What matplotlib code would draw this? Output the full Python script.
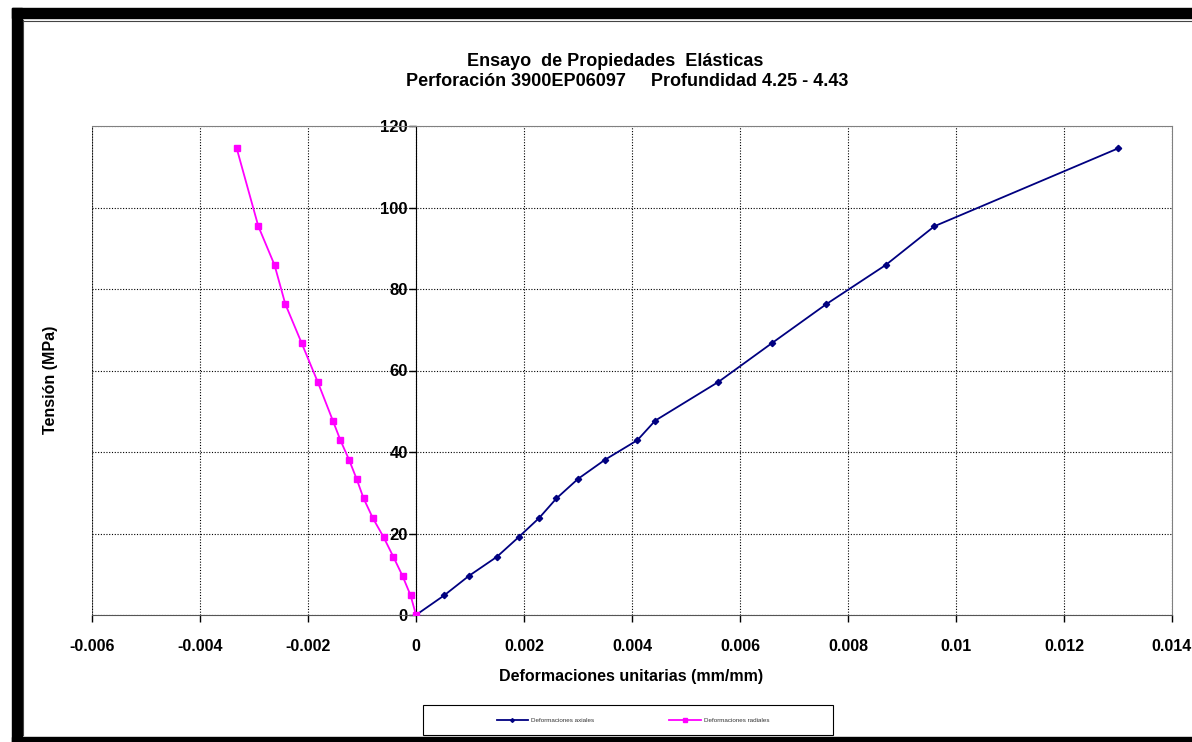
import matplotlib
matplotlib.use('Agg')
import matplotlib.pyplot as plt
from matplotlib.patches import Rectangle
from matplotlib.lines import Line2D

plt.rcParams['font.family'] = ['Liberation Sans', 'DejaVu Sans']

# tension steps (MPa)
tension = [0, 4.8, 9.6, 14.3, 19.1, 23.8, 28.6, 33.4, 38.1, 42.9, 47.7, 57.2, 66.8, 76.3, 85.9, 95.4, 114.5]
# axial strain (mm/mm)
axial = [0, 0.00052, 0.00098, 0.0015, 0.0019, 0.00228, 0.0026, 0.003, 0.0035, 0.0041, 0.00443,
         0.0056, 0.0066, 0.0076, 0.0087, 0.0096, 0.013]
# radial strain (mm/mm)
radial = [0, -0.0001, -0.00025, -0.00042, -0.0006, -0.0008, -0.00097, -0.0011, -0.00124, -0.0014,
          -0.00154, -0.00182, -0.00212, -0.00242, -0.00262, -0.00292, -0.00332]

xticks = [-0.006, -0.004, -0.002, 0, 0.002, 0.004, 0.006, 0.008, 0.01, 0.012, 0.014]
xlabels = ['-0.006', '-0.004', '-0.002', '0', '0.002', '0.004', '0.006', '0.008', '0.01', '0.012', '0.014']
yticks = [0, 20, 40, 60, 80, 100, 120]

fig = plt.figure(figsize=(11.92, 7.42), dpi=100)
W, H = 1192, 742

# outer frame (black border like spreadsheet chart object)
def px_rect(x, y, w, h, **kw):
    fig.patches.append(Rectangle((x / W, 1 - (y + h) / H), w / W, h / H,
                                 transform=fig.transFigure, **kw))

px_rect(12, 8, 10, 734, color='black')
px_rect(12, 8, 1180, 10, color='black')
px_rect(12, 737, 1180, 5, color='black')
fig.lines.append(Line2D([22.5 / W, 22.5 / W], [1 - 20 / H, 1 - 735 / H], transform=fig.transFigure,
                        color='#444444', lw=0.8))
fig.lines.append(Line2D([22.5 / W, 1], [1 - 20.5 / H, 1 - 20.5 / H], transform=fig.transFigure,
                        color='#444444', lw=0.8))

ax = fig.add_axes([92 / W, 1 - 615 / H, (1172 - 92) / W, (615 - 126) / H])
ax.set_xlim(-0.006, 0.014)
ax.set_ylim(0, 120)

ax.plot(axial, tension, color='#000080', lw=1.3, marker='D', ms=3.2, label='Deformaciones axiales', zorder=4)
ax.plot(radial, tension, color='#FF00FF', lw=1.3, marker='s', ms=5, label='Deformaciones radiales', zorder=4)

ax.spines['left'].set_position(('data', 0))
ax.spines['left'].set_color('black')
ax.spines['bottom'].set_color('#555555')
for s in ['top', 'right']:
    ax.spines[s].set_color('#808080')
ax.axvline(-0.006, color='#808080', lw=1.5, zorder=1)

ax.set_xticks(xticks)
ax.set_xticklabels(xlabels, fontsize=11.5, fontweight='bold')
ax.set_yticks(yticks)
ax.set_yticklabels([str(v) for v in yticks], fontsize=12, fontweight='bold')
ax.tick_params(axis='both', direction='out', length=5, width=1)
ax.tick_params(axis='y', pad=1)
ax.tick_params(axis='x', pad=12)
ax.grid(True, color='black', linestyle=(0, (1, 1.5)), lw=0.8)

fig.text(50 / W, 1 - 380 / H, 'Tensión (MPa)', rotation=90, ha='center', va='center',
         fontsize=11.5, fontweight='bold')
fig.text(631 / W, 1 - 676 / H, 'Deformaciones unitarias (mm/mm)', ha='center', va='center',
         fontsize=11.5, fontweight='bold')
fig.text(615 / W, 1 - 62 / H, 'Ensayo  de Propiedades  Elásticas', ha='center', va='center',
         fontsize=13, fontweight='bold')
fig.text(627 / W, 1 - 82 / H, 'Perforación 3900EP06097     Profundidad 4.25 - 4.43', ha='center',
         va='center', fontsize=13, fontweight='bold')

# legend box
px_rect(423, 705, 410, 30, facecolor='white', edgecolor='black', lw=0.8)
leg = fig.legend(loc='center', bbox_to_anchor=(633 / W, 1 - 720 / H), ncol=2,
                 fontsize=4.5, frameon=False, handlelength=5, handletextpad=0.5,
                 columnspacing=12, markerscale=0.6)
for t in leg.get_texts():
    t.set_color('#333333')

fig.savefig('out.png', dpi=100)
